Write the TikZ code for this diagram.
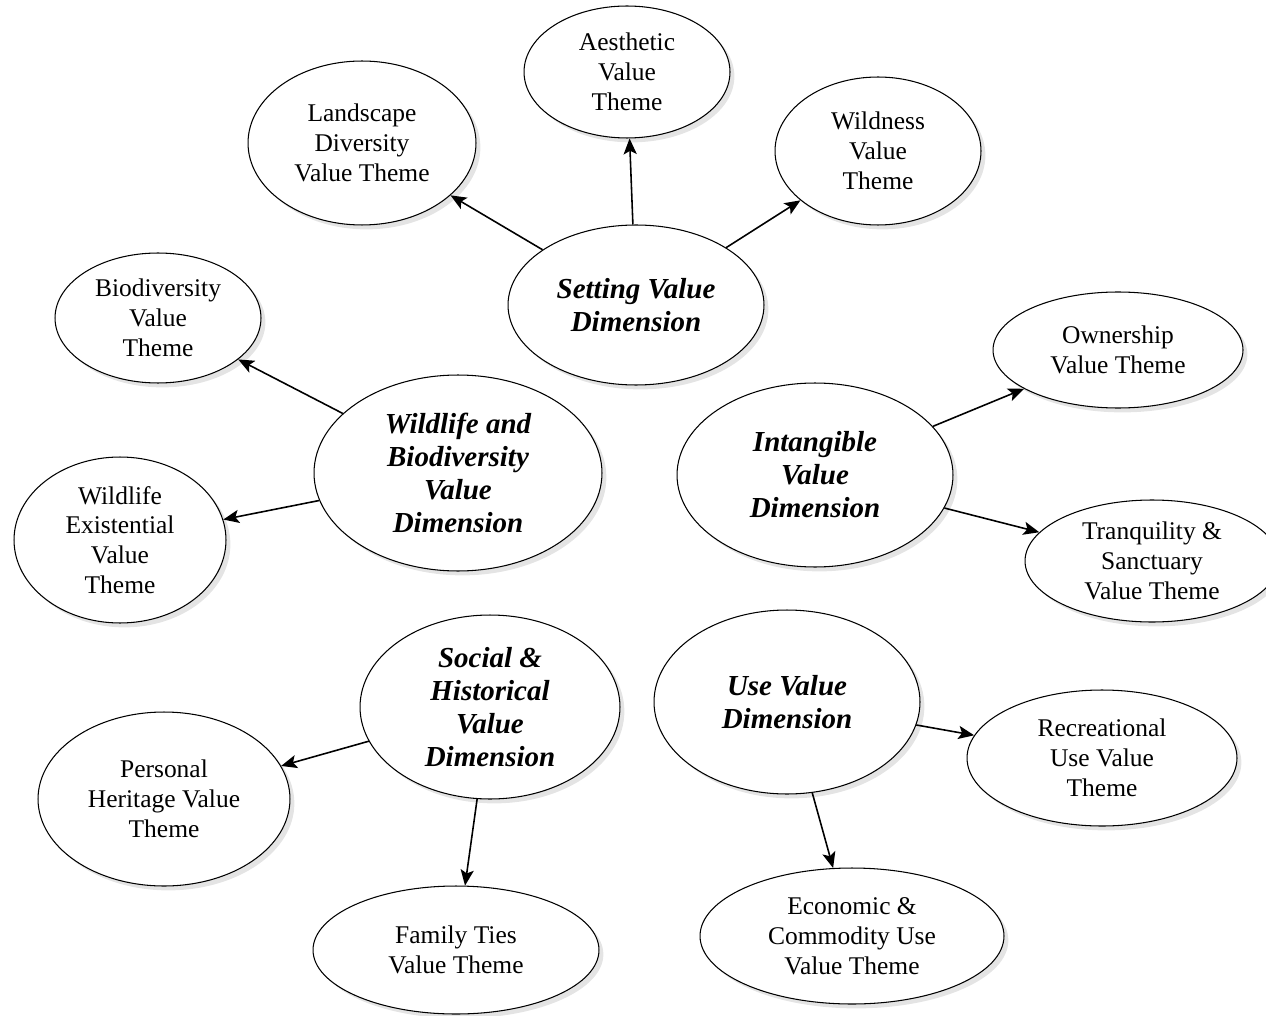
\documentclass[tikz,border=0pt]{standalone}
\usepackage{fontspec}
\setmainfont{Liberation Serif}
\usetikzlibrary{shapes.geometric,shadows,arrows.meta}
\begin{document}
\begin{tikzpicture}[x=0.02cm,y=-0.02cm,
 theme/.style={ellipse, draw=black, line width=0.6pt, fill=white, inner sep=0pt, align=center,
  font=\fontsize{14.5}{17}\selectfont,
  drop shadow={fill=black!30, opacity=0.35, shadow xshift=2.5pt, shadow yshift=-2.5pt}},
 dimension/.style={theme, font=\fontsize{16.5}{18.8}\selectfont\bfseries\itshape},
 link/.style={draw=black, line width=0.9pt, -{Stealth[length=9pt,width=7.5pt,inset=2pt]}}]
 \useasboundingbox (0,0) rectangle (1266,1016);
 \node[dimension, minimum width=5.12cm, minimum height=3.2cm] (setting) at (636,305) {Setting Value\\Dimension};
 \node[dimension, minimum width=5.76cm, minimum height=3.92cm] (wildlife) at (458,473) {Wildlife and\\Biodiversity\\Value\\Dimension};
 \node[dimension, minimum width=5.52cm, minimum height=3.68cm] (intangible) at (815,475) {Intangible\\Value\\Dimension};
 \node[dimension, minimum width=5.2cm, minimum height=3.68cm] (social) at (490,707) {Social \&\\Historical\\Value\\Dimension};
 \node[dimension, minimum width=5.32cm, minimum height=3.68cm] (use) at (787,702) {Use Value\\Dimension};
 \node[theme, minimum width=4.12cm, minimum height=2.64cm] (aesthetic) at (627,72) {Aesthetic\\Value\\Theme};
 \node[theme, minimum width=4.56cm, minimum height=3.28cm] (landscape) at (362,143) {Landscape\\Diversity\\Value Theme};
 \node[theme, minimum width=4.12cm, minimum height=2.96cm] (wildness) at (878,151) {Wildness\\Value\\Theme};
 \node[theme, minimum width=4.12cm, minimum height=2.6cm] (biodiversity) at (158,318) {Biodiversity\\Value\\Theme};
 \node[theme, minimum width=4.24cm, minimum height=3.32cm] (existential) at (120,540) {Wildlife\\Existential\\Value\\Theme};
 \node[theme, minimum width=5.0cm, minimum height=2.32cm] (ownership) at (1118,350) {Ownership\\Value Theme};
 \node[theme, minimum width=5.08cm, minimum height=2.44cm] (tranquility) at (1152,561) {Tranquility \&\\Sanctuary\\Value Theme};
 \node[theme, minimum width=5.04cm, minimum height=3.48cm] (heritage) at (164,799) {Personal\\Heritage Value\\Theme};
 \node[theme, minimum width=5.72cm, minimum height=2.56cm] (family) at (456,950) {Family Ties\\Value Theme};
 \node[theme, minimum width=5.4cm, minimum height=2.72cm] (recreational) at (1102,758) {Recreational\\Use Value\\Theme};
 \node[theme, minimum width=6.08cm, minimum height=2.72cm] (economic) at (852,936) {Economic \&\\Commodity Use\\Value Theme};
 \draw[link] (setting) -- (aesthetic);
 \draw[link] (setting) -- (landscape);
 \draw[link] (setting) -- (wildness);
 \draw[link] (wildlife) -- (biodiversity);
 \draw[link] (wildlife) -- (existential);
 \draw[link] (intangible) -- (ownership);
 \draw[link] (intangible) -- (tranquility);
 \draw[link] (social) -- (heritage);
 \draw[link] (social) -- (family);
 \draw[link] (use) -- (recreational);
 \draw[link] (use) -- (economic);
\end{tikzpicture}
\end{document}
